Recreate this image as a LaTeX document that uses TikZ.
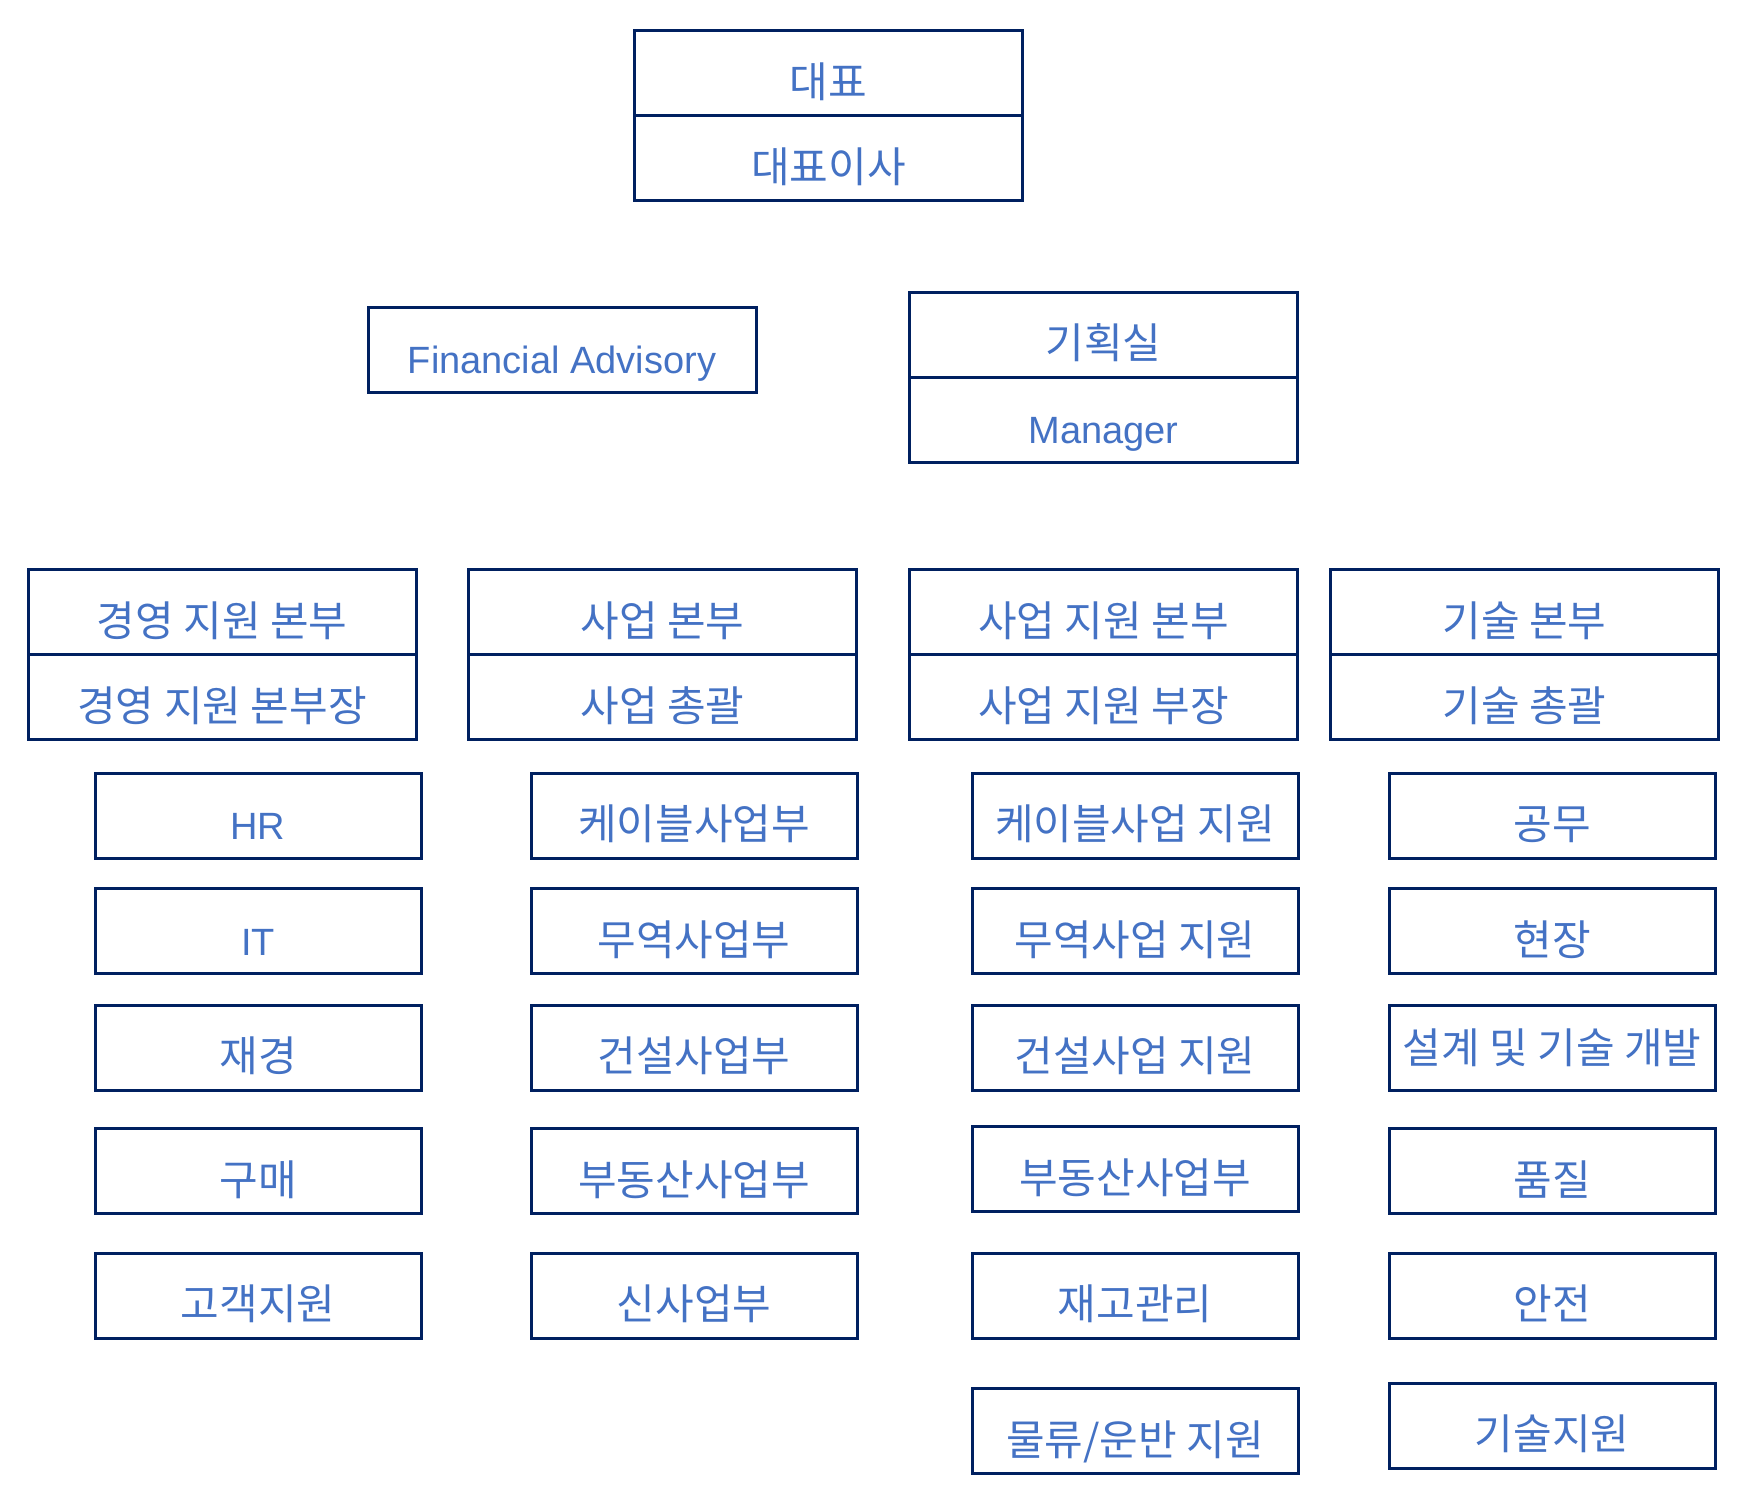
\documentclass[tikz,border=0pt]{standalone}
\usepackage{fontspec}
\setmainfont{Liberation Sans}
\newfontfamily\krfont{Noto Sans CJK KR}
\usetikzlibrary{positioning}
\definecolor{boxnavy}{HTML}{002060}
\definecolor{txtblue}{HTML}{4472C4}

\begin{document}
\begin{tikzpicture}[
    x=0.5pt, y=-0.5pt,
    box/.style={draw=boxnavy, line width=1.5pt, inner sep=0pt, outer sep=0pt,
                minimum width=194pt, minimum height=42.5pt, text=txtblue,
                text height=24pt, text depth=0pt,
                font=\krfont\fontsize{21}{25}\selectfont},
    sub/.style={box, minimum width=163pt},
    lat/.style={font=\rmfamily\fontsize{19}{23}\selectfont},
  ]
  \useasboundingbox (0,0) rectangle (1756,1500);

  % Top: CEO
  \node[box] (ceo) at (828.5,73) {대표};
  \node[box, below=0pt of ceo] (ceotitle) {대표이사};

  % Row 2: staff
  \node[box, lat] (finadv) at (562,349.5) {Financial Advisory};
  \node[box] (plan) at (1103.5,334.5) {기획실};
  \node[box, lat, below=0pt of plan] (planmgr) {Manager};

  % Row 3: divisions
  \node[box] (mgmt) at (222,612) {경영 지원 본부};
  \node[box, below=0pt of mgmt] (mgmthead) {경영 지원 본부장};
  \node[box] (biz) at (662.5,612) {사업 본부};
  \node[box, below=0pt of biz] (bizhead) {사업 총괄};
  \node[box] (bizsup) at (1103.5,612) {사업 지원 본부};
  \node[box, below=0pt of bizsup] (bizsuphead) {사업 지원 부장};
  \node[box] (tech) at (1524.5,612) {기술 본부};
  \node[box, below=0pt of tech] (techhead) {기술 총괄};

  % Column 1: management support
  \node[sub, lat] (hr) at (258,815.5) {HR};
  \node[sub, lat] (it) at (258,931) {IT};
  \node[sub] (fin) at (258,1047.5) {재경};
  \node[sub] (buy) at (258,1171) {구매};
  \node[sub] (cs) at (258,1295.5) {고객지원};

  % Column 2: business
  \node[sub] (cable) at (694,815.5) {케이블사업부};
  \node[sub] (trade) at (694,931) {무역사업부};
  \node[sub] (build) at (694,1047.5) {건설사업부};
  \node[sub] (estate) at (694,1171) {부동산사업부};
  \node[sub] (newbiz) at (694,1295.5) {신사업부};

  % Column 3: business support
  \node[sub] (cablesup) at (1135,815.5) {케이블사업 지원};
  \node[sub] (tradesup) at (1135,931) {무역사업 지원};
  \node[sub] (buildsup) at (1135,1047.5) {건설사업 지원};
  \node[sub] (estatesup) at (1135,1169) {부동산사업부};
  \node[sub] (stock) at (1135,1295.5) {재고관리};
  \node[sub] (logi) at (1135,1431) {물류/운반 지원};

  % Column 4: technology
  \node[sub] (works) at (1552,815.5) {공무};
  \node[sub] (site) at (1552,931) {현장};
  \node[sub, text height=15.5pt] (design) at (1552,1047.5) {설계 및 기술 개발};
  \node[sub] (quality) at (1552,1171) {품질};
  \node[sub] (safety) at (1552,1295.5) {안전};
  \node[sub] (techsup) at (1552,1425.5) {기술지원};
\end{tikzpicture}
\end{document}
